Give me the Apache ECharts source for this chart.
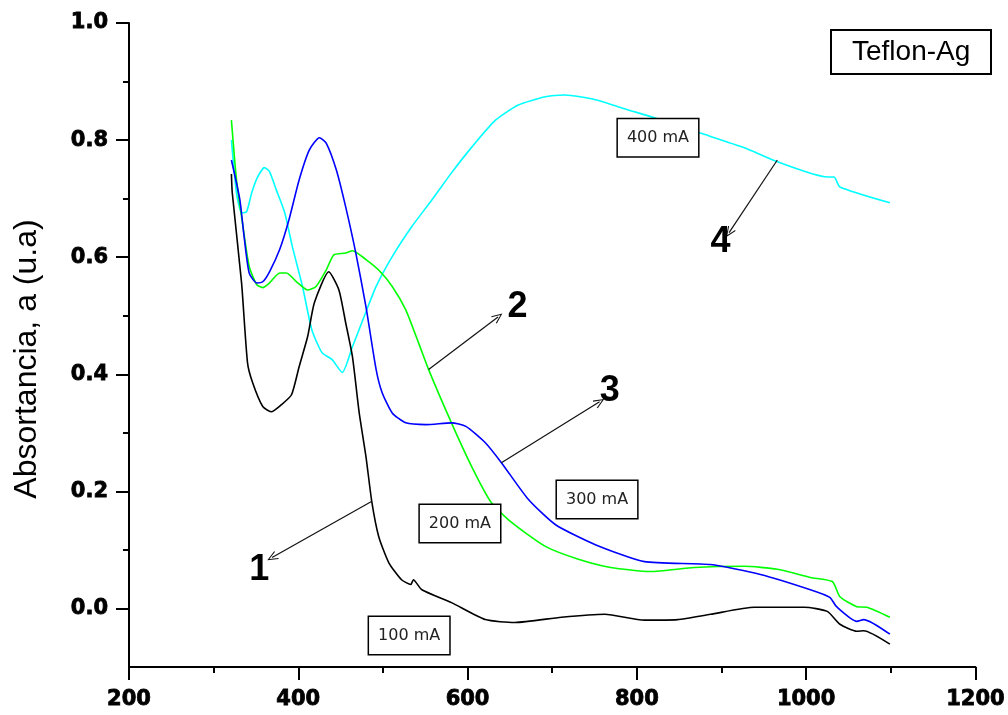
<!DOCTYPE html>
<html>
<head>
<meta charset="utf-8">
<script src="https://cdn.jsdelivr.net/npm/echarts@6/dist/echarts.min.js"></script>
<style>
  html, body { margin: 0; padding: 0; background: #fff; }
  #chart { width: 1008px; height: 715px; }
</style>
</head>
<body>
<div id="chart"></div>
<script>
// UV-Vis absorbance spectra of Teflon-Ag films at four deposition currents
const wl100 = [321, 322, 333, 340, 346, 358, 368, 380, 392, 401, 411, 419, 436, 448, 456, 464, 472, 480, 487, 495, 507, 522, 533, 536, 546, 581, 621, 656, 711, 762, 809, 848, 887, 939, 998, 1025, 1040, 1060, 1068, 1099];
const abs100 = [0.742, 0.710, 0.556, 0.420, 0.386, 0.345, 0.336, 0.348, 0.365, 0.413, 0.464, 0.522, 0.575, 0.544, 0.488, 0.430, 0.334, 0.259, 0.181, 0.123, 0.078, 0.049, 0.041, 0.049, 0.032, 0.010, -0.019, -0.024, -0.015, -0.010, -0.020, -0.019, -0.010, 0.002, 0.002, -0.005, -0.027, -0.039, -0.038, -0.061];

const wl200 = [321, 327, 334, 342, 351, 358, 366, 378, 386, 398, 411, 421, 433, 442, 456, 464, 480, 495, 511, 527, 542, 554, 581, 605, 628, 652, 692, 731, 769, 816, 868, 927, 966, 1005, 1031, 1040, 1060, 1072, 1099];
const abs200 = [0.834, 0.732, 0.659, 0.584, 0.553, 0.548, 0.556, 0.573, 0.573, 0.558, 0.544, 0.550, 0.578, 0.604, 0.607, 0.611, 0.596, 0.578, 0.550, 0.510, 0.454, 0.408, 0.317, 0.242, 0.181, 0.147, 0.106, 0.084, 0.070, 0.063, 0.070, 0.072, 0.067, 0.053, 0.046, 0.020, 0.003, 0.002, -0.015];

const wl300 = [321, 331, 336, 342, 351, 358, 366, 378, 389, 401, 413, 425, 433, 445, 456, 468, 480, 492, 499, 511, 527, 551, 581, 598, 621, 640, 672, 704, 751, 809, 887, 946, 1005, 1028, 1036, 1060, 1068, 1099];
const abs300 = [0.766, 0.698, 0.635, 0.573, 0.556, 0.558, 0.575, 0.613, 0.664, 0.732, 0.783, 0.804, 0.795, 0.749, 0.686, 0.607, 0.515, 0.408, 0.369, 0.334, 0.317, 0.314, 0.317, 0.311, 0.283, 0.249, 0.186, 0.143, 0.109, 0.080, 0.075, 0.058, 0.032, 0.019, 0.003, -0.022, -0.019, -0.044];

const wl400 = [321, 327, 333, 339, 345, 352, 360, 366, 374, 384, 393, 405, 416, 428, 440, 452, 464, 475, 492, 511, 534, 558, 581, 605, 633, 660, 692, 715, 751, 789, 821, 875, 927, 966, 1025, 1033, 1040, 1099];
const abs400 = [0.800, 0.710, 0.676, 0.678, 0.710, 0.737, 0.753, 0.746, 0.715, 0.676, 0.618, 0.550, 0.476, 0.437, 0.425, 0.403, 0.447, 0.488, 0.550, 0.601, 0.652, 0.698, 0.744, 0.788, 0.834, 0.860, 0.874, 0.877, 0.869, 0.852, 0.838, 0.812, 0.787, 0.763, 0.737, 0.737, 0.720, 0.693];

// Axis ticks
const yLabelTicks = [0.0, 0.2, 0.4, 0.6, 0.8, 1.0];
const yMinorTicks = [0.1, 0.3, 0.5, 0.7, 0.9];

// Annotations: current labels, curve numbers and pointer arrows (data units)
const currentLabels = [
  { text: '100 mA', at: [531, -0.046] },
  { text: '200 mA', at: [591, 0.145] },
  { text: '300 mA', at: [753, 0.186] },
  { text: '400 mA', at: [825, 0.804] }
];
const curveNumbers = [
  { text: '1', at: [354, 0.065] },
  { text: '2', at: [659, 0.514] },
  { text: '3', at: [768, 0.372] },
  { text: '4', at: [899, 0.625] }
];
const arrows = [
  { from: [487, 0.183], to: [369, 0.087] },
  { from: [554, 0.408], to: [636, 0.498] },
  { from: [640, 0.249], to: [756, 0.353] },
  { from: [966, 0.766], to: [909, 0.642] }
];

const zip = (xs, ys) => xs.map((x, i) => [x, ys[i]]);

const axisFont = {
  color: '#000',
  fontSize: 21,
  fontWeight: 'bold',
  fontFamily: 'DejaVu Sans, sans-serif',
  textBorderColor: '#000',
  textBorderWidth: 0.8
};

const chart = echarts.init(document.getElementById('chart'), null, { renderer: 'canvas' });

const lineSeries = (name, xs, ys, color) => ({
  name,
  type: 'line',
  data: zip(xs, ys),
  showSymbol: false,
  symbol: 'none',
  smooth: 0.2,
  lineStyle: { color, width: 1.6 },
  z: 2
});

const arrowHead = 'path://M5,0 L10,11 L9,11.6 L5,2.6 L1,11.6 L0,11 Z';

const option = {
  animation: false,
  backgroundColor: '#fff',
  title: {
    text: 'Teflon-Ag',
    left: 831,
    top: 30,
    padding: [8, 21, 8, 21],
    borderColor: '#000',
    borderWidth: 2,
    textStyle: {
      color: '#000',
      fontSize: 28,
      fontWeight: 'normal',
      fontFamily: 'Liberation Sans, Arial, sans-serif'
    }
  },
  grid: { left: 129, right: 29, top: 23, bottom: 48, containLabel: false },
  xAxis: {
    type: 'value',
    min: 200,
    max: 1200,
    interval: 200,
    axisLine: { show: true, onZero: false, lineStyle: { color: '#000', width: 2 } },
    axisTick: { show: true, inside: false, length: 13, lineStyle: { color: '#000', width: 2 } },
    minorTick: { show: true, splitNumber: 2, length: 6, lineStyle: { color: '#000', width: 2 } },
    splitLine: { show: false },
    axisLabel: Object.assign({ margin: 22, formatter: v => String(v) }, axisFont)
  },
  yAxis: [
    {
      type: 'value',
      min: -0.1,
      max: 1.0,
      name: 'Absortancia, a (u.a)',
      nameLocation: 'middle',
      nameGap: 86,
      nameRotate: 90,
      nameTextStyle: {
        color: '#000',
        fontSize: 32,
        fontFamily: 'Liberation Sans, Arial, sans-serif',
        padding: [0, 28, 0, 0]
      },
      axisLine: { show: true, onZero: false, lineStyle: { color: '#000', width: 2 } },
      axisTick: { show: true, inside: false, length: 13, customValues: yLabelTicks, lineStyle: { color: '#000', width: 2 } },
      splitLine: { show: false },
      axisLabel: Object.assign({
        margin: 21,
        customValues: yLabelTicks,
        formatter: v => v.toFixed(1)
      }, axisFont)
    },
    {
      type: 'value',
      min: -0.1,
      max: 1.0,
      position: 'left',
      axisLine: { show: false },
      axisTick: { show: true, inside: false, length: 6, customValues: yMinorTicks, lineStyle: { color: '#000', width: 2 } },
      axisLabel: { show: false },
      splitLine: { show: false }
    }
  ],
  series: [
    lineSeries('400 mA', wl400, abs400, '#00ffff'),
    lineSeries('200 mA', wl200, abs200, '#00ff00'),
    lineSeries('300 mA', wl300, abs300, '#0000ff'),
    Object.assign(lineSeries('100 mA', wl100, abs100, '#000000'), {
      markLine: {
        silent: true,
        symbol: ['none', arrowHead],
        symbolSize: [9, 11],
        label: { show: false },
        lineStyle: { color: '#111', width: 1.2, type: 'solid' },
        emphasis: { disabled: true },
        data: arrows.map(a => [{ coord: a.from }, { coord: a.to }])
      },
      markPoint: {
        silent: true,
        symbol: 'rect',
        symbolSize: 0,
        data: [
          ...currentLabels.map(l => ({
            coord: l.at,
            label: {
              show: true,
              position: 'inside',
              formatter: l.text,
              color: '#222',
              fontSize: 16,
              fontFamily: 'DejaVu Sans, sans-serif',
              backgroundColor: '#fff',
              borderColor: '#000',
              borderWidth: 1.5,
              padding: [11, 9, 10, 9]
            }
          })),
          ...curveNumbers.map(n => ({
            coord: n.at,
            label: {
              show: true,
              position: 'inside',
              formatter: n.text,
              color: '#000',
              fontSize: 36,
              fontWeight: 'bold',
              fontFamily: 'Liberation Sans, Arial, sans-serif'
            }
          }))
        ]
      },
      z: 3
    })
  ]
};

chart.setOption(option);
</script>
</body>
</html>
